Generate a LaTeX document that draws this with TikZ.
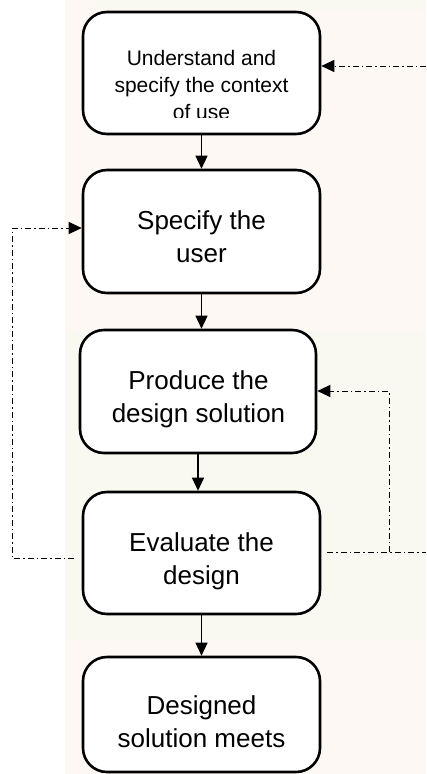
\documentclass[tikz,border=0pt]{standalone}
\usepackage{fontspec}
\setmainfont{Liberation Sans}
\usetikzlibrary{arrows.meta}
\definecolor{peach}{HTML}{FDF8F3}
\definecolor{pale}{HTML}{F9F9F2}
\begin{document}
\begin{tikzpicture}[x=1pt,y=-1pt,
  box/.style={draw,fill=white,line width=2.6pt,rounded corners=24pt,inner sep=0pt,minimum width=237pt},
  lbl/.style={align=center,font=\fontsize{26}{33}\selectfont,inner sep=0pt},
  slbl/.style={align=center,font=\fontsize{21}{27}\selectfont,inner sep=0pt},
  flow/.style={line width=1.3pt,-{Triangle[length=13pt,width=12pt]}},
  fbl/.style={line width=1pt,dash pattern=on 6pt off 3pt on 1.5pt off 3pt},
  fb/.style={fbl,-{Triangle[length=13pt,width=12pt]}}]
\useasboundingbox (0,0) rectangle (426,774);
\fill[white] (0,0) rectangle (426,774);
\fill[peach] (65,0) rectangle (426,774);
\fill[pale] (65,330) rectangle (426,640);
\fill[pale] (95,0) rectangle (426,10);
% boxes
\node[box,minimum height=122pt] (b1) at (201.5,73) {};
\node[box,minimum height=123pt] (b2) at (201.5,231.5) {};
\node[box,minimum height=123pt,minimum width=236pt] (b3) at (198,391.5) {};
\node[box,minimum height=122pt] (b4) at (201.5,553) {};
\node[box,minimum height=115pt] (b5) at (201.5,714.5) {};
% labels
\begin{scope}
\clip (83,12) rectangle (320,117);
\node[slbl] (t1) at (201.5,85) {Understand and\\specify the context\\of use};
\end{scope}
\node[lbl] (t2) at (201.5,236.5) {Specify the\\user};
\node[lbl] (t3) at (198.5,399) {Produce the\\design solution};
\node[lbl] (t4) at (201.5,561.5) {Evaluate the\\design};
\node[lbl] (t5) at (201.5,721.5) {Designed\\solution meets};
% flow arrows
\draw[flow] (b1.south) -- (b2.north);
\draw[flow] (b2.south) -- (b3.north -| b2.south);
\draw[flow] (b3.south) -- (b4.north -| b3.south);
\draw[flow] (b4.south) -- (b5.north);
% feedback connectors
\coordinate (e1) at (426,66);
\draw[fb] (e1) -- (b1.east |- e1);
\coordinate (l1) at (74,558);
\coordinate (l2) at (12,558);
\coordinate (l3) at (12,228);
\draw[fb] (l1) -- (l2) -- (l3) -- (b2.west |- l3);
\coordinate (r1) at (327,552);
\coordinate (r2) at (426,552);
\coordinate (r3) at (389,552);
\coordinate (r4) at (389,391);
\draw[fbl] (r1) -- (r2);
\draw[fb] (r3) -- (r4) -- (b3.east |- r4);
\end{tikzpicture}
\end{document}
